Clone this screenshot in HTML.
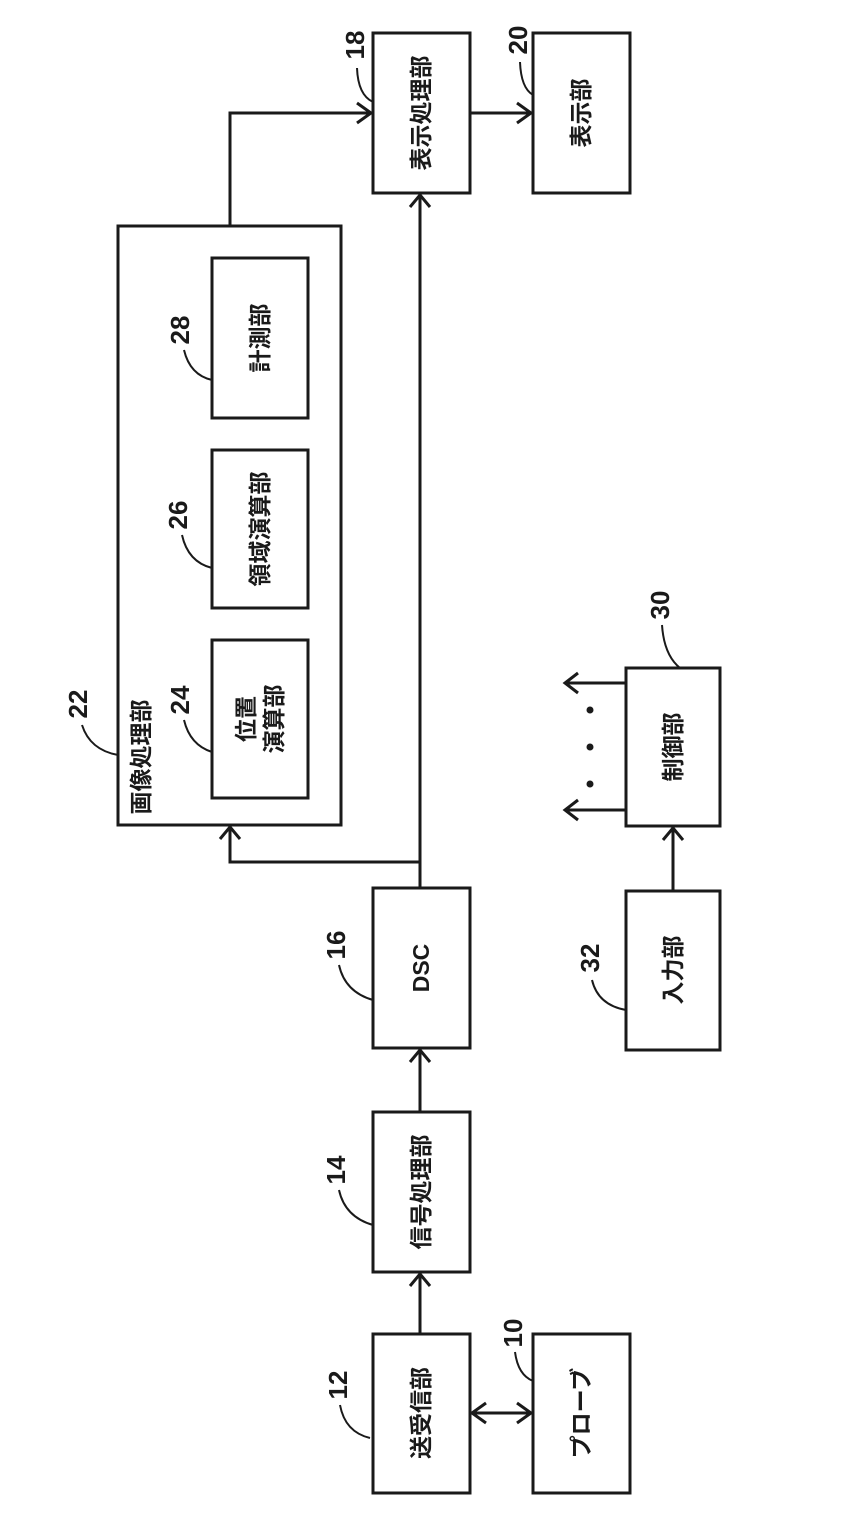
<!DOCTYPE html>
<html><head><meta charset="utf-8"><style>
html,body{margin:0;padding:0;background:#fff}
text{font-family:"Liberation Sans","Noto Sans CJK JP",sans-serif;fill:#1a1a1a;font-weight:bold}
</style></head><body>
<svg width="850" height="1512" viewBox="0 0 850 1512" xmlns="http://www.w3.org/2000/svg">
<g fill="none" stroke="#1a1a1a" stroke-width="3">
<rect x="373" y="33" width="97" height="160"/>
<rect x="533" y="33" width="97" height="160"/>
<rect x="118" y="226" width="223" height="599"/>
<rect x="212" y="258" width="96" height="160"/>
<rect x="212" y="450" width="96" height="158"/>
<rect x="212" y="640" width="96" height="158"/>
<rect x="373" y="888" width="97" height="160"/>
<rect x="373" y="1112" width="97" height="160"/>
<rect x="373" y="1334" width="97" height="159"/>
<rect x="533" y="1334" width="97" height="159"/>
<rect x="626" y="668" width="94" height="158"/>
<rect x="626" y="891" width="94" height="159"/>
<polyline points="230,226 230,113 371,113"/>
<polyline points="420,888 420,195"/>
<polyline points="420,862 230,862 230,827"/>
<polyline points="470,113 531,113"/>
<polyline points="420,1112 420,1050"/>
<polyline points="420,1334 420,1274"/>
<polyline points="472,1413 531,1413"/>
<polyline points="673,891 673,828"/>
<polyline points="626,683 565,683"/>
<polyline points="626,810 565,810"/>
<polyline points="357,103 371,113 357,123"/>
<polyline points="410,207 420,195 430,207"/>
<polyline points="220,839 230,827 240,839"/>
<polyline points="517,103 531,113 517,123"/>
<polyline points="410,1062 420,1050 430,1062"/>
<polyline points="410,1286 420,1274 430,1286"/>
<polyline points="486,1403 472,1413 486,1423"/>
<polyline points="517,1403 531,1413 517,1423"/>
<polyline points="663,840 673,828 683,840"/>
<polyline points="578,673 565,683 578,693"/>
<polyline points="578,800 565,810 578,820"/>
<g stroke-width="2">
<path d="M357,68 Q358,95 373,102"/>
<path d="M520,62 Q521,88 533,95"/>
<path d="M82,725 Q90,750 118,755"/>
<path d="M184,720 Q190,745 212,752"/>
<path d="M182,535 Q188,562 212,568"/>
<path d="M184,350 Q190,375 212,380"/>
<path d="M339,965 Q345,992 373,1000"/>
<path d="M339,1190 Q345,1217 373,1225"/>
<path d="M340,1405 Q345,1432 370,1438"/>
<path d="M515,1352 Q518,1375 533,1381"/>
<path d="M662,625 Q664,655 680,668"/>
<path d="M592,980 Q598,1005 626,1010"/>
</g>
</g>
<g fill="#1a1a1a"><circle cx="590" cy="710" r="3.5"/><circle cx="590" cy="747" r="3.5"/><circle cx="590" cy="784" r="3.5"/></g>
<g font-size="23" text-anchor="middle" dominant-baseline="central">
<text transform="translate(421,113) rotate(-90)">表示処理部</text>
<text transform="translate(581,113) rotate(-90)">表示部</text>
<text transform="translate(260,338) rotate(-90)">計測部</text>
<text transform="translate(260,529) rotate(-90)">領域演算部</text>
<text transform="translate(246,719) rotate(-90)">位置</text>
<text transform="translate(274,719) rotate(-90)">演算部</text>
<text transform="translate(421,968) rotate(-90)">DSC</text>
<text transform="translate(421,1192) rotate(-90)">信号処理部</text>
<text transform="translate(421,1413) rotate(-90)">送受信部</text>
<text transform="translate(581,1413) rotate(-90)">プローブ</text>
<text transform="translate(673,747) rotate(-90)">制御部</text>
<text transform="translate(673,970) rotate(-90)">入力部</text>
<text transform="translate(141,757) rotate(-90)">画像処理部</text>
<text font-size="26" font-weight="normal" transform="translate(355,45) rotate(-90)">18</text>
<text font-size="26" font-weight="normal" transform="translate(518,40) rotate(-90)">20</text>
<text font-size="26" font-weight="normal" transform="translate(78,704) rotate(-90)">22</text>
<text font-size="26" font-weight="normal" transform="translate(180,700) rotate(-90)">24</text>
<text font-size="26" font-weight="normal" transform="translate(178,515) rotate(-90)">26</text>
<text font-size="26" font-weight="normal" transform="translate(180,330) rotate(-90)">28</text>
<text font-size="26" font-weight="normal" transform="translate(336,945) rotate(-90)">16</text>
<text font-size="26" font-weight="normal" transform="translate(336,1170) rotate(-90)">14</text>
<text font-size="26" font-weight="normal" transform="translate(338,1385) rotate(-90)">12</text>
<text font-size="26" font-weight="normal" transform="translate(513,1333) rotate(-90)">10</text>
<text font-size="26" font-weight="normal" transform="translate(660,605) rotate(-90)">30</text>
<text font-size="26" font-weight="normal" transform="translate(590,958) rotate(-90)">32</text>
</g>
</svg>
</body></html>
